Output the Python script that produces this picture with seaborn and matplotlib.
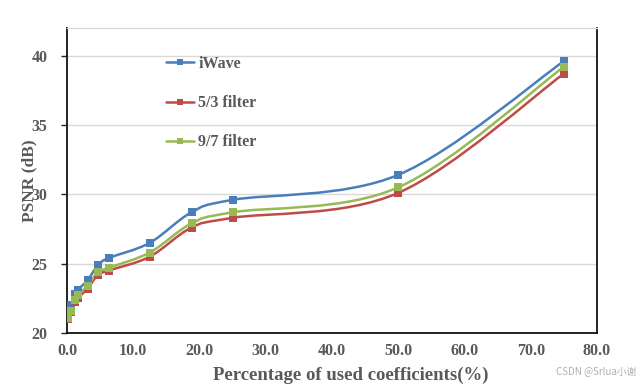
import numpy as np
import pandas as pd
import matplotlib
matplotlib.use("Agg")
import matplotlib.pyplot as plt
from matplotlib.path import Path
from matplotlib.patches import PathPatch
import seaborn as sns

# data
pct = [0.1, 0.6, 1.2, 1.6, 3.1, 4.7, 6.3, 12.5, 18.8, 25.0, 50.0, 75.0]
iwave = [21.5, 22.0, 22.8, 23.1, 23.8, 24.9, 25.4, 26.5, 28.7, 29.6, 31.4, 39.6]
f53 = [21.0, 21.5, 22.2, 22.5, 23.2, 24.2, 24.5, 25.5, 27.6, 28.3, 30.1, 38.7]
f97 = [21.1, 21.6, 22.4, 22.7, 23.4, 24.4, 24.7, 25.8, 27.9, 28.7, 30.5, 39.2]
series_names = ["iWave", "5/3 filter", "9/7 filter"]
colors = ["#4a7ebb", "#be4b48", "#98b954"]
x_ticks = [0, 10, 20, 30, 40, 50, 60, 70, 80]
y_ticks = [20, 25, 30, 35, 40]

df = pd.DataFrame({"pct": pct * 3,
                   "psnr": iwave + f53 + f97,
                   "method": sum([[n] * len(pct) for n in series_names], [])})

sns.set_style("white")
plt.rcParams["font.family"] = ["Liberation Serif", "DejaVu Serif"]

fig = plt.figure(figsize=(6.44, 3.88), dpi=100)
ax = fig.add_axes([0.104, 0.142, 0.823, 0.786])

# smooth curves like excel (catmull-rom as bezier path)
def smooth_path(xs, ys):
    p = np.column_stack([xs, ys])
    verts = [p[0]]
    codes = [Path.MOVETO]
    n = len(p)
    for i in range(n - 1):
        p0 = p[max(i - 1, 0)]
        p3 = p[min(i + 2, n - 1)]
        c1 = p[i] + (p[i + 1] - p0) / 6
        c2 = p[i + 1] - (p3 - p[i]) / 6
        verts += [c1, c2, p[i + 1]]
        codes += [Path.CURVE4] * 3
    return Path(verts, codes)

for name, col in zip(series_names, colors):
    sub = df[df["method"] == name]
    ax.add_patch(PathPatch(smooth_path(sub["pct"].values, sub["psnr"].values),
                           fill=False, edgecolor=col, lw=1.8, zorder=2))

sns.lineplot(data=df, x="pct", y="psnr", hue="method", palette=colors,
             marker="s", markersize=5.5, markeredgewidth=0, linewidth=0,
             ax=ax, legend=False, zorder=3)

ax.set_xlim(0, 80)
ax.set_ylim(20, 42)
ax.set_xticks(x_ticks)
ax.set_xticklabels([f"{v:.1f}" for v in x_ticks])
ax.set_yticks(y_ticks)
for y in y_ticks[1:]:
    ax.axhline(y, color="#d9d9d9", lw=1, zorder=1)

for lab in ax.get_xticklabels() + ax.get_yticklabels():
    lab.set_fontsize(11.5)
    lab.set_fontweight("bold")
    lab.set_color("#595959")
ax.tick_params(axis="y", length=4, width=1, color="#222222", direction="out", pad=10, left=True)
ax.tick_params(axis="x", length=0, pad=7)

ax.set_xlabel("Percentage of used coefficients(%)", fontsize=13.5, fontweight="bold", color="#595959")
ax.xaxis.set_label_coords(0.536, -0.11)
ax.set_ylabel("PSNR (dB)", fontsize=12.5, fontweight="bold", color="#595959")
ax.yaxis.set_label_coords(-0.055, 0.5)

for side in ["left", "bottom", "right"]:
    ax.spines[side].set_color("#111111")
    ax.spines[side].set_linewidth(1.3)
ax.spines["top"].set_color("#d9d9d9")
ax.spines["top"].set_linewidth(1)

handles = [plt.Line2D([], [], color=c, lw=1.8, marker="s", markersize=5, markeredgewidth=0)
           for c in colors]
leg = ax.legend(handles, series_names, loc="upper left", bbox_to_anchor=(0.16, 0.955),
                frameon=False, labelspacing=1.45, handlelength=1.75, handletextpad=0.25,
                prop={"family": ["Liberation Serif"], "weight": "bold", "size": 11.5})
for t in leg.get_texts():
    t.set_color("#595959")

fig.text(0.988, 0.03, "CSDN @Srlua小谢", ha="right", va="bottom", fontsize=7,
         color="#b0b0b0", family=["Noto Sans CJK SC", "DejaVu Sans"])

fig.savefig("out.png", dpi=100, facecolor="white")
